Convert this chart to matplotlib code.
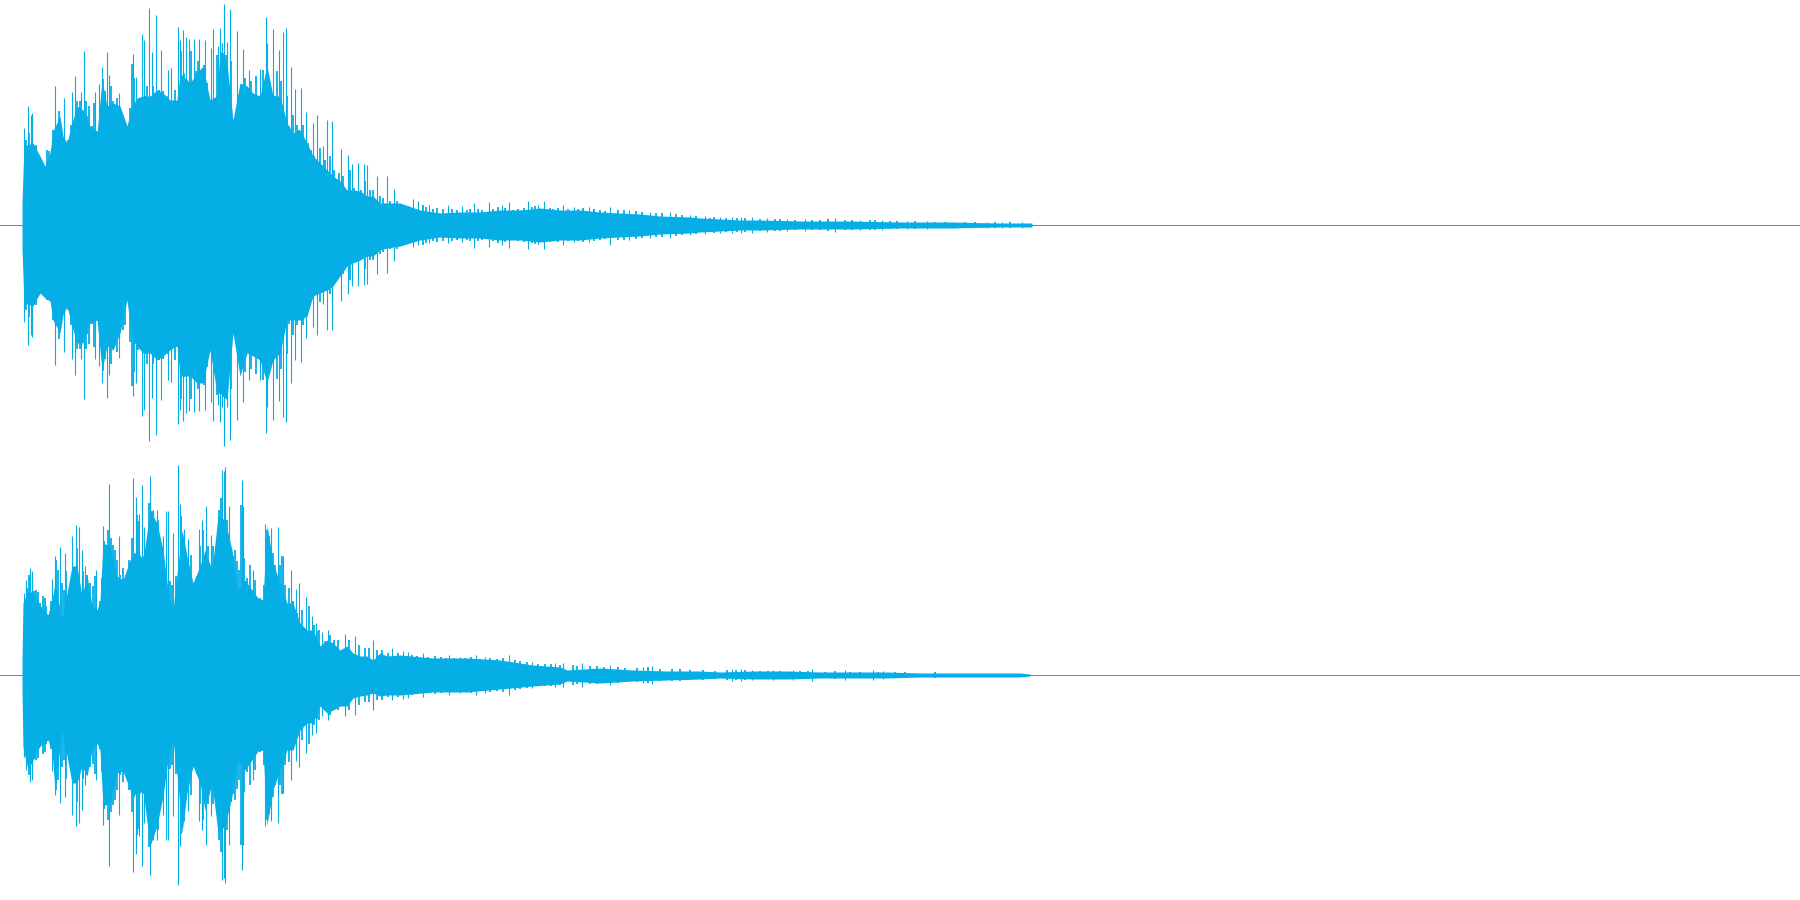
import numpy as np
from matplotlib import pylab as plt

# stereo waveform, amplitudes (track half height = 225)
COLOR = '#06AEE6'

# left channel, main body
left_x = [22, 24, 33, 40, 45, 50, 53, 60, 63, 67, 72, 77, 83, 90, 97, 102, 107, 113, 120, 127,
          132, 137, 143, 150, 157, 163, 170, 177, 180, 190, 197, 203, 210, 217, 220, 227, 233, 240, 247, 253,
          260, 267, 273, 280, 287, 293, 300, 307, 313, 320, 327, 333, 340, 347, 353, 360, 367, 373, 380, 387,
          400, 420, 440, 460, 480, 500, 520, 540, 560, 580, 600, 620, 640, 660, 690,
          700, 720, 740, 760, 800, 850, 900, 950, 1000, 1032]
left_up = [22, 79, 82, 69, 59, 72, 94, 109, 89, 82, 102, 119, 115, 99, 92, 145, 119, 122, 119, 99,
           119, 127, 129, 129, 135, 132, 125, 125, 152, 142, 152, 159, 125, 129, 175, 162, 105, 142, 139, 132,
           129, 159, 129, 129, 102, 92, 95, 82, 69, 62, 55, 49, 44, 35, 35, 34, 29, 29, 22, 22,
           22, 15, 12, 13, 13, 15, 15, 17, 15, 15, 13, 12, 11, 9, 8,
           7, 6, 5, 5, 4, 4, 3, 3, 2, 2]
left_down = [23, 78, 81, 68, 73, 76, 95, 108, 90, 81, 101, 118, 118, 98, 95, 145, 121, 125, 108, 75,
             115, 121, 128, 128, 135, 131, 125, 120, 151, 151, 158, 158, 125, 168, 168, 175, 108, 151, 128, 131,
             135, 158, 135, 128, 95, 95, 95, 91, 71, 68, 65, 61, 51, 41, 38, 35, 31, 31, 25, 23,
             21, 15, 12, 13, 13, 15, 15, 17, 15, 15, 13, 12, 11, 9, 8,
             7, 6, 5, 5, 4, 4, 3, 3, 2, 2]

# left channel, thin peaks standing out of the body
left_peak_x = [24, 28, 31, 32, 55, 64, 72, 75, 81, 84, 95, 99, 102, 107, 109, 119, 133, 136, 142, 144,
               149, 152, 156, 161, 168, 171, 178, 180, 183, 186, 189, 194, 199, 205, 211, 213, 218, 220, 222, 224,
               227, 230, 237, 243, 249, 260, 266, 267, 273, 279, 283, 286, 291, 295, 301, 306, 313, 317, 323, 327,
               332, 341, 348, 352, 358, 364, 367, 377, 387, 394,
               413, 418, 429, 448, 462, 474, 489, 502, 509, 528, 538, 544, 563, 574, 589, 610, 629, 650, 670, 690,
               705, 720, 732, 741, 752, 767, 787, 805, 835, 860, 882, 907, 927, 953, 987, 1002, 1022]
left_peak_up = [97, 119, 110, 112, 139, 127, 133, 149, 133, 174, 133, 141, 158, 173, 150, 132, 171, 148, 191, 185,
                217, 173, 210, 175, 155, 157, 198, 185, 195, 188, 186, 186, 186, 185, 177, 196, 179, 197, 182, 221,
                183, 216, 194, 176, 155, 156, 208, 182, 196, 175, 193, 197, 158, 136, 137, 113, 102, 110, 79, 105,
                104, 76, 70, 61, 62, 61, 60, 49, 49, 36,
                26, 24, 20, 20, 19, 22, 23, 20, 23, 24, 20, 24, 20, 18, 18, 18, 15, 13, 13, 10,
                9, 8, 8, 8, 8, 7, 6, 6, 7, 5, 5, 4, 4, 3, 3, 3, 3]
left_peak_down = [97, 120, 110, 112, 140, 127, 134, 150, 134, 174, 134, 141, 158, 173, 150, 133, 171, 158, 191, 185,
                  216, 173, 210, 175, 155, 157, 199, 185, 196, 188, 186, 187, 186, 185, 177, 196, 180, 197, 182, 221,
                  182, 215, 195, 177, 155, 155, 208, 182, 195, 176, 192, 197, 158, 135, 137, 113, 102, 110, 79, 105,
                  105, 76, 69, 61, 61, 60, 59, 49, 48, 36,
                  22, 20, 18, 18, 17, 23, 22, 20, 23, 24, 19, 24, 20, 17, 17, 20, 15, 13, 13, 10,
                  9, 8, 8, 8, 8, 7, 6, 6, 7, 5, 5, 4, 4, 3, 3, 3, 3]

# left channel, shorter columns along the edge of the body (about symmetric)
left_mid_x = [26, 29, 36, 40, 43, 47, 49, 53, 57, 59, 62, 68, 71, 74, 77, 80, 86, 87, 89, 92,
              94, 97, 103, 105, 108, 111, 113, 117, 123, 125, 130, 132, 134, 138, 145, 147, 153, 158, 159, 163,
              165, 168, 171, 173, 175, 177, 181, 184, 187, 191, 193, 196, 198, 201, 204, 207, 209, 215, 217, 223,
              226, 229, 231, 235, 239, 245, 247, 251, 254, 256, 258, 263, 269, 275, 277, 281, 285, 287, 289, 293,
              297, 299, 303, 308, 311, 314, 320, 325, 330, 334, 339, 343, 346, 350, 354, 361, 365, 370, 373, 380,
              383, 390, 397, 403, 408, 423, 426, 433, 437, 443, 452, 457, 467, 470, 478, 482, 493, 498, 505, 513,
              518, 524, 532, 535, 550, 553, 558, 568, 578, 583, 594, 600, 605, 618, 624, 636, 642, 656, 662, 676,
              682, 696, 710, 714, 726, 737, 745, 760, 775, 780, 795, 812, 820, 828, 845, 852, 870, 875, 890, 897,
              915, 935, 945, 965, 975, 995, 1010]
left_mid_amp = [85, 92, 80, 67, 62, 75, 74, 95, 97, 114, 89, 85, 100, 104, 124, 124, 124, 109, 119, 99,
                122, 94, 146, 134, 119, 139, 124, 127, 105, 100, 117, 161, 147, 125, 129, 139, 139, 99, 135, 134,
                119, 129, 89, 122, 135, 122, 174, 152, 145, 174, 114, 154, 164, 154, 160, 142, 124, 127, 170, 172,
                170, 130, 164, 99, 130, 147, 109, 144, 94, 149, 125, 155, 145, 129, 154, 144, 102, 129, 99, 110,
                100, 95, 100, 82, 75, 69, 77, 65, 69, 55, 52, 49, 35, 55, 37, 35, 44, 35, 35, 29,
                27, 24, 24, 19, 19, 20, 18, 16, 17, 16, 16, 15, 15, 16, 16, 15, 16, 18, 17, 15,
                16, 17, 18, 19, 17, 16, 17, 16, 16, 17, 16, 15, 14, 15, 15, 14, 13, 12, 12, 11,
                10, 9, 7, 8, 7, 7, 7, 6, 6, 6, 5, 5, 5, 6, 5, 5, 5, 5, 4, 4,
                4, 3, 3, 3, 3, 3, 3]

# right channel, main body
right_x = [22, 23, 28, 33, 40, 48, 52, 55, 62, 67, 72, 77, 82, 87, 92, 97, 100, 103, 110, 117,
           123, 130, 137, 143, 150, 157, 163, 168, 173, 178, 182, 187, 193, 200, 205, 212, 218, 225, 232, 238,
           245, 252, 258, 263, 267, 273, 280, 287, 293, 300, 307, 313, 320, 327, 333, 340, 347, 353, 360, 367,
           373, 380, 387, 400, 433, 467, 500, 533, 560, 567, 600, 633, 667, 700, 720,
           753, 787, 820, 853, 887, 920, 953, 987, 1020, 1030]
right_up = [15, 72, 85, 82, 70, 60, 75, 92, 55, 82, 109, 109, 79, 100, 69, 65, 75, 132, 129, 99,
            95, 115, 125, 115, 164, 152, 125, 85, 65, 110, 145, 119, 92, 109, 125, 105, 159, 155, 125, 85,
            95, 85, 77, 75, 150, 112, 92, 72, 72, 52, 45, 45, 29, 35, 32, 25, 29, 22, 19, 19,
            15, 22, 19, 20, 17, 17, 15, 10, 8, 5, 7, 5, 4, 4, 3,
            4, 4, 3, 3, 3, 2, 2, 2, 2, 1]
right_down = [15, 72, 95, 85, 71, 65, 75, 115, 55, 81, 108, 108, 91, 101, 75, 68, 75, 131, 128, 98,
              96, 115, 121, 115, 171, 151, 121, 85, 65, 108, 158, 118, 91, 108, 135, 108, 158, 151, 121, 85,
              95, 85, 76, 75, 150, 115, 95, 75, 75, 55, 48, 48, 31, 38, 35, 31, 31, 23, 21, 20,
              18, 21, 20, 20, 17, 17, 14, 11, 9, 6, 8, 6, 5, 4, 3,
              4, 4, 3, 3, 3, 2, 2, 2, 2, 1]

# right channel, thin peaks
right_peak_x = [24, 26, 30, 32, 52, 55, 60, 65, 72, 76, 79, 82, 85, 96, 103, 109, 119, 133, 136, 139,
                142, 144, 150, 153, 157, 163, 166, 168, 173, 178, 180, 184, 188, 199, 202, 206, 211, 222, 224, 225,
                229, 242, 243, 253, 265, 271, 278, 283, 291, 296, 299, 306, 312, 316, 322, 328, 345, 355, 373, 392,
                403, 408, 423, 449, 460, 476, 485, 509, 532, 555, 563, 582, 610, 643, 652,
                732, 741, 752, 773, 793, 812, 845, 873, 883]
right_peak_up = [82, 95, 107, 104, 96, 119, 128, 122, 139, 150, 148, 125, 109, 105, 149, 191, 139, 197, 178, 161,
                 190, 148, 199, 165, 165, 139, 164, 164, 142, 210, 171, 146, 136, 146, 155, 169, 140, 205, 204, 208,
                 169, 195, 169, 105, 151, 147, 148, 119, 105, 86, 92, 78, 59, 52, 43, 45, 41, 39, 35, 27,
                 24, 23, 22, 20, 18, 20, 18, 20, 13, 12, 12, 12, 10, 8, 9,
                 6, 6, 5, 5, 5, 6, 5, 5, 4]
right_peak_down = [82, 95, 107, 105, 96, 120, 128, 122, 140, 151, 148, 135, 110, 105, 150, 191, 140, 197, 179, 161,
                   191, 148, 200, 165, 165, 140, 165, 165, 141, 210, 171, 146, 136, 146, 155, 170, 141, 205, 203, 208,
                   170, 195, 170, 105, 151, 146, 148, 118, 105, 86, 92, 78, 60, 58, 41, 45, 41, 40, 35, 25,
                   24, 23, 22, 20, 18, 20, 18, 20, 13, 12, 12, 12, 10, 8, 9,
                   6, 6, 5, 5, 5, 6, 5, 5, 4]

# right channel, shorter columns
right_mid_x = [27, 29, 34, 36, 38, 40, 43, 45, 46, 49, 51, 53, 56, 58, 62, 64, 66, 69, 70, 74,
               77, 80, 83, 87, 90, 93, 95, 98, 100, 102, 104, 106, 108, 111, 113, 115, 117, 120, 123, 126,
               129, 132, 134, 137, 138, 140, 143, 145, 147, 149, 152, 155, 158, 160, 162, 164, 167, 170, 172, 175,
               176, 181, 183, 185, 187, 191, 193, 197, 200, 203, 205, 208, 210, 213, 215, 217, 219, 221, 223, 227,
               231, 233, 235, 237, 239, 241, 244, 247, 250, 255, 257, 260, 262, 264, 267, 269, 273, 275, 277, 280,
               282, 285, 287, 289, 293, 297, 302, 304, 307, 309, 314, 317, 319, 325, 330, 334, 338, 342, 349, 359,
               365, 369, 377, 382, 388, 398, 412, 417, 428, 435, 441, 446, 454, 465, 471, 480, 490, 497, 503, 515,
               520, 527, 538, 545, 551, 560, 573, 577, 590, 597, 604, 618, 625, 637, 648, 660, 672, 680, 690, 703,
               715, 727, 736, 745, 760, 768, 780, 800, 808, 825, 835, 850, 860, 878, 895, 905, 935]
right_mid_amp = [87, 100, 84, 85, 83, 72, 79, 77, 69, 60, 74, 79, 115, 105, 92, 85, 104, 69, 85, 100,
                 127, 77, 104, 100, 92, 89, 99, 65, 74, 97, 134, 127, 145, 137, 130, 125, 115, 100, 107, 100,
                 115, 137, 122, 160, 154, 114, 119, 125, 125, 172, 164, 139, 155, 127, 124, 104, 82, 94, 90, 62,
                 99, 159, 135, 119, 92, 120, 92, 99, 129, 145, 109, 129, 104, 129, 110, 134, 165, 177, 152, 155,
                 127, 119, 125, 114, 105, 170, 117, 97, 110, 95, 77, 77, 57, 90, 145, 139, 122, 110, 82, 110,
                 119, 90, 59, 87, 74, 62, 65, 39, 40, 69, 50, 44, 45, 34, 40, 35, 35, 22, 35, 30,
                 27, 27, 25, 25, 22, 22, 20, 19, 18, 19, 18, 17, 17, 17, 18, 16, 17, 16, 17, 15,
                 14, 13, 11, 11, 11, 10, 10, 9, 9, 9, 8, 8, 7, 7, 8, 6, 6, 6, 5, 5,
                 4, 5, 5, 5, 4, 4, 4, 4, 4, 3, 4, 3, 3, 3, 3, 3, 3]


def draw_track(ax, x, up, down, peak_x, peak_up, peak_down, mid_x, mid_amp):
    ax.set_xlim(0, 1800)
    ax.set_ylim(-225, 225)
    ax.axis('off')
    # center line runs over the whole width
    ax.axhline(0, color=COLOR, lw=0.72)
    ax.fill_between(x, np.array(up), -np.array(down), color=COLOR, lw=0)
    ax.vlines(peak_x, -np.array(peak_down), np.array(peak_up), color=COLOR, lw=0.8)
    ax.vlines(mid_x, -np.array(mid_amp), np.array(mid_amp), color=COLOR, lw=1.3)


fig, (ax1, ax2) = plt.subplots(2, 1, figsize=(18, 9), dpi=100)
fig.subplots_adjust(left=0, right=1, top=1, bottom=0, hspace=0)
draw_track(ax1, left_x, left_up, left_down, left_peak_x, left_peak_up, left_peak_down, left_mid_x, left_mid_amp)
draw_track(ax2, right_x, right_up, right_down, right_peak_x, right_peak_up, right_peak_down, right_mid_x, right_mid_amp)
fig.savefig('out.png', dpi=100, facecolor='white')
